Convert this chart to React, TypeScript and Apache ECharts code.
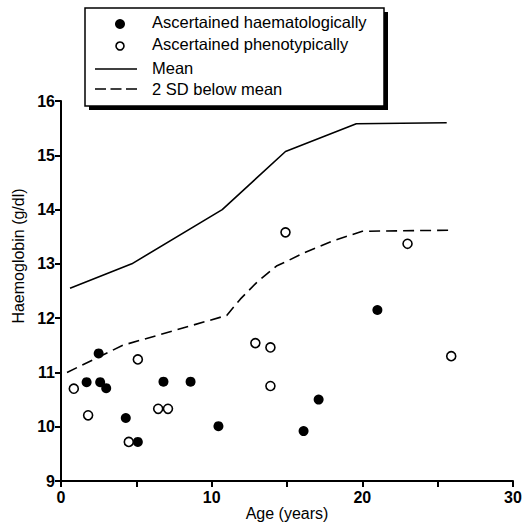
import React, { useEffect, useRef } from "react";
import * as echarts from "echarts";

const haematological: number[][] = [
  [1.7, 10.82], [2.5, 11.35], [2.6, 10.82], [3.0, 10.71], [4.3, 10.16], [5.1, 9.72],
  [6.8, 10.83], [8.6, 10.83], [10.45, 10.01], [16.1, 9.92], [17.1, 10.5], [21.0, 12.15],
];
const phenotypical: number[][] = [
  [0.85, 10.7], [1.8, 10.21], [4.5, 9.72], [5.1, 11.24], [6.45, 10.33], [7.1, 10.33],
  [12.9, 11.54], [13.9, 11.46], [13.9, 10.75], [14.9, 13.58], [23.0, 13.37], [25.9, 11.3],
];
const meanLine: number[][] = [
  [0.6, 12.55], [4.7, 13.0], [10.7, 14.0], [14.9, 15.07], [19.6, 15.58], [25.6, 15.6],
];
const sdLine: number[][] = [
  [0.4, 11.0], [4.1, 11.5], [11.0, 12.05], [11.9, 12.35], [13.0, 12.66], [14.3, 12.96],
  [15.0, 13.05], [16.1, 13.2], [18.0, 13.42], [20.0, 13.6], [25.8, 13.62],
];
const seriesNames = [
  "Ascertained haematologically",
  "Ascertained phenotypically",
  "Mean",
  "2 SD below mean",
];
const xTickLabels = [0, 10, 20, 30];

const FONT = "'Liberation Sans', Arial, Helvetica, sans-serif";

export default function App() {
  const ref = useRef<HTMLDivElement>(null);
  useEffect(() => {
    if (!ref.current) return;
    const chart = echarts.init(ref.current, undefined, { renderer: "svg" });
    const legendText = (text: string, y: number) => ({
      type: "text", z: 3, x: 152, y,
      style: { text, fill: "#000", font: `16.5px ${FONT}`, align: "left", verticalAlign: "middle" },
    });
    chart.setOption({
      animation: false,
      backgroundColor: "#fff",
      textStyle: { fontFamily: FONT },
      grid: { left: 61, right: 11, top: 101, bottom: 42, containLabel: false, outerBoundsMode: "none" },
      graphic: [
        { type: "rect", z: 1, shape: { x: 89, y: 12, width: 299, height: 98 }, style: { fill: "#000" } },
        { type: "rect", z: 2, shape: { x: 85, y: 8, width: 299, height: 98 }, style: { fill: "#fff", stroke: "#000", lineWidth: 1.5 } },
        { type: "circle", z: 3, shape: { cx: 120, cy: 24, r: 5 }, style: { fill: "#000" } },
        { type: "circle", z: 3, shape: { cx: 120, cy: 46, r: 4 }, style: { fill: "#fff", stroke: "#000", lineWidth: 1.6 } },
        { type: "line", z: 3, shape: { x1: 95, y1: 69, x2: 137, y2: 69 }, style: { stroke: "#000", lineWidth: 1.6 } },
        { type: "line", z: 3, shape: { x1: 95, y1: 89, x2: 137, y2: 89 }, style: { stroke: "#000", lineWidth: 1.6, lineDash: [11, 4.5] } },
        legendText(seriesNames[0], 22),
        legendText(seriesNames[1], 44),
        legendText(seriesNames[2], 68),
        legendText(seriesNames[3], 89),
        {
          type: "text", z: 3, x: 18, y: 256, rotation: Math.PI / 2,
          style: { text: "Haemoglobin (g/dl)", fill: "#000", font: `16px ${FONT}`, align: "center", verticalAlign: "middle" },
        },
      ],
      xAxis: {
        type: "value",
        min: 0,
        max: 30,
        interval: 5,
        name: "Age (years)",
        nameLocation: "middle",
        nameGap: 23,
        nameMoveOverlap: false,
        nameTextStyle: { fontSize: 16, lineHeight: 18, color: "#000", fontFamily: FONT },
        axisLine: { show: true, onZero: false, lineStyle: { color: "#000", width: 2 } },
        axisTick: { show: true, inside: false, length: 6, lineStyle: { color: "#000", width: 2 } },
        splitLine: { show: false },
        axisLabel: {
          color: "#000", fontSize: 16, fontWeight: "bold", margin: 8, fontFamily: FONT,
          formatter: (v: number) => (xTickLabels.includes(v) ? String(v) : ""),
        },
      },
      yAxis: {
        type: "value",
        min: 9,
        max: 16,
        interval: 1,
        axisLine: { show: true, onZero: false, lineStyle: { color: "#000", width: 2 } },
        axisTick: { show: true, inside: false, length: 6, lineStyle: { color: "#000", width: 2 } },
        splitLine: { show: false },
        axisLabel: { color: "#000", fontSize: 16, fontWeight: "bold", margin: 6, fontFamily: FONT },
      },
      series: [
        {
          name: seriesNames[0],
          type: "scatter",
          data: haematological,
          symbol: "circle",
          symbolSize: 10,
          itemStyle: { color: "#000", opacity: 1 },
          z: 5,
        },
        {
          name: seriesNames[1],
          type: "scatter",
          data: phenotypical,
          symbol: "circle",
          symbolSize: 9,
          itemStyle: { color: "#fff", borderColor: "#000", borderWidth: 1.6, opacity: 1 },
          z: 5,
        },
        {
          name: seriesNames[2],
          type: "line",
          data: meanLine,
          symbol: "none",
          showSymbol: false,
          lineStyle: { color: "#000", width: 1.6, type: "solid" },
        },
        {
          name: seriesNames[3],
          type: "line",
          data: sdLine,
          symbol: "none",
          showSymbol: false,
          lineStyle: { color: "#000", width: 1.6, type: [11, 6] },
        },
      ],
    });
    return () => chart.dispose();
  }, []);
  return (
    <div
      ref={ref}
      style={{ position: "absolute", left: 0, top: 0, width: 524, height: 523, background: "#fff" }}
    />
  );
}
